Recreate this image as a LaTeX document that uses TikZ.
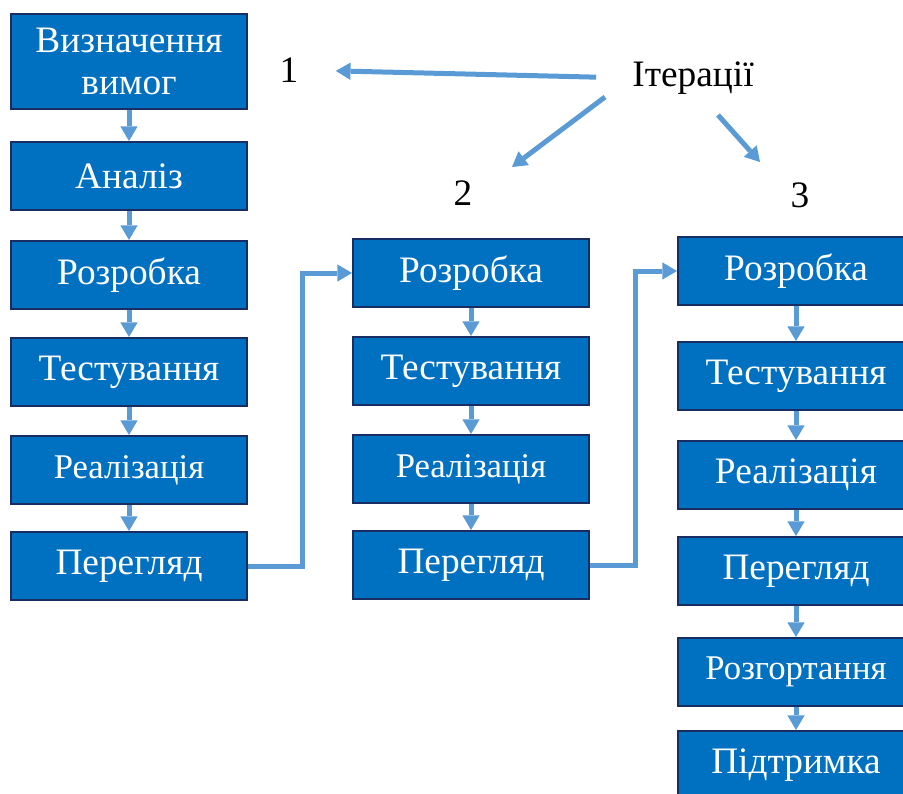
\documentclass[tikz,border=0pt]{standalone}
\usepackage{fontspec}
\setmainfont{Liberation Serif}
\usetikzlibrary{arrows.meta}

\definecolor{stagefill}{RGB}{0,112,192}
\definecolor{stageline}{RGB}{24,45,98}
\definecolor{flowblue}{RGB}{91,155,213}

\tikzset{every picture/.style={line width=0.75pt}}
\tikzset{
  stage/.style={draw=stageline, fill=stagefill, line width=1.5pt, text=white,
    minimum width=177pt, minimum height=51pt, inner sep=0.75pt, align=center,
    anchor=north west, font=\fontsize{28}{31.5}\selectfont},
  small/.style={font=\fontsize{26}{30}\selectfont},
  flow/.style={draw=flowblue, line width=3.75pt,
    -{Triangle[width=13pt,length=11pt,line width=0pt]}},
  lbl/.style={inner sep=0.75pt, font=\fontsize{28}{31.5}\selectfont}
}

\begin{document}
\begin{tikzpicture}[x=0.75pt,y=0.75pt,yscale=-1,xscale=1]
		\useasboundingbox (0,0) rectangle (903,793);
		
		%Column 1
		\node[stage, minimum height=71.25pt] (req1) at (10,13) {Визначення\\вимог};
		\node[stage] (an1) at (10,141) {Аналіз};
		\node[stage] (dev1) at (10,240) {Розробка};
		\node[stage] (test1) at (10,337) {Тестування};
		\node[stage, small] (impl1) at (10,435) {Реалізація};
		\node[stage] (rev1) at (10,531) {Перегляд};
		
		%Column 2
		\node[stage] (dev2) at (352,238) {Розробка};
		\node[stage] (test2) at (352,336) {Тестування};
		\node[stage, small] (impl2) at (352,434) {Реалізація};
		\node[stage] (rev2) at (352,530) {Перегляд};
		
		%Column 3
		\node[stage] (dev3) at (677,236) {Розробка};
		\node[stage] (test3) at (677,341) {Тестування};
		\node[stage] (impl3) at (677,440) {Реалізація};
		\node[stage] (rev3) at (677,536) {Перегляд};
		\node[stage, small] (dep3) at (677,637) {Розгортання};
		\node[stage] (sup3) at (677,730) {Підтримка};
		
		%Labels
		\node[lbl] (n1) at (289,70) {1};
		\node[lbl] (n2) at (463,193) {2};
		\node[lbl] (n3) at (800,195) {3};
		\node[lbl] (iter) at (693,78) {Ітерації};
		\coordinate (from2) at (605,97);
		\coordinate (to2) at (512,167);
		\coordinate (from3) at (718,115);
		\coordinate (to3) at (760,162);
		
		%Arrows
		\draw[flow] (req1.south) -- (an1.north);
		\draw[flow] (an1.south) -- (dev1.north);
		\draw[flow] (dev1.south) -- (test1.north);
		\draw[flow] (test1.south) -- (impl1.north);
		\draw[flow] (impl1.south) -- (rev1.north);
		\draw[flow] (rev1.east) -- ++(54,0) |- (dev2.west);
		
		\draw[flow] (dev2.south) -- (test2.north);
		\draw[flow] (test2.south) -- (impl2.north);
		\draw[flow] (impl2.south) -- (rev2.north);
		\draw[flow] (rev2.east) -- ++(45,0) |- (dev3.west);
		
		\draw[flow] (dev3.south) -- (test3.north);
		\draw[flow] (test3.south) -- (impl3.north);
		\draw[flow] (impl3.south) -- (rev3.north);
		\draw[flow] (rev3.south) -- (dep3.north);
		\draw[flow] (dep3.south) -- (sup3.north);
		
		\draw[flow, shorten <=26pt, shorten >=27pt] (iter.west) -- (n1.east);
		\draw[flow] (from2) -- (to2);
		\draw[flow] (from3) -- (to3);
		
\end{tikzpicture}
\end{document}
